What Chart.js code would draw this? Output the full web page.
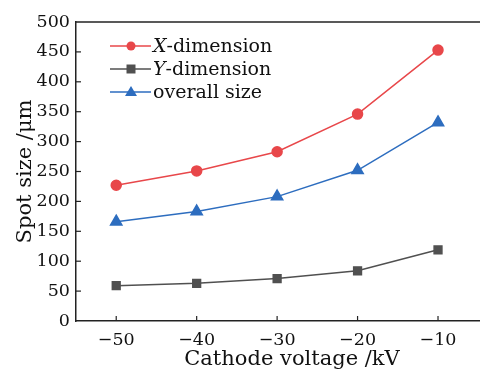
<!DOCTYPE html>
<html>
<head>
<meta charset="utf-8">
<script src="https://cdn.jsdelivr.net/npm/chart.js@4"></script>
<style>
  html, body { margin: 0; padding: 0; background: #fff; overflow: hidden; }
  #wrap { width: 516px; height: 371px; }
</style>
</head>
<body>
<div id="wrap"><canvas id="chart"></canvas></div>
<script>
const voltages = [-50, -40, -30, -20, -10];
const xDimension = [227, 251, 283, 346, 453];
const yDimension = [59, 63, 71, 84, 119];
const overallSize = [166, 183, 208, 252, 332];
const seriesLabels = ["X-dimension", "Y-dimension", "overall size"];

const FONT = "'DejaVu Serif', 'Liberation Serif', serif";
const TICK_SIZE = 17.5;
const LEGEND_SIZE = 19;
const TITLE_SIZE = 21;

const frameAndLegend = {
  id: "frameAndLegend",
  afterDraw(chart) {
    const { ctx, chartArea: a, scales } = chart;
    ctx.save();
    ctx.strokeStyle = "#222";
    ctx.lineWidth = 1.5;
    // top border
    ctx.beginPath();
    ctx.moveTo(a.left, a.top);
    ctx.lineTo(a.right, a.top);
    ctx.stroke();
    // inward ticks
    ctx.lineWidth = 1.2;
    voltages.forEach(v => {
      const x = scales.x.getPixelForValue(v);
      ctx.beginPath();
      ctx.moveTo(x, a.bottom);
      ctx.lineTo(x, a.bottom - 5);
      ctx.stroke();
    });
    for (let v = 50; v < 500; v += 50) {
      const y = scales.y.getPixelForValue(v);
      ctx.beginPath();
      ctx.moveTo(a.left, y);
      ctx.lineTo(a.left + 5, y);
      ctx.stroke();
    }

    // legend
    const rows = [46, 69, 92];
    chart.data.datasets.forEach((ds, i) => {
      const y = rows[i];
      ctx.strokeStyle = ds.borderColor;
      ctx.lineWidth = 1.5;
      ctx.beginPath();
      ctx.moveTo(110, y);
      ctx.lineTo(151, y);
      ctx.stroke();
      ctx.fillStyle = ds.borderColor;
      const cx = 131;
      ctx.beginPath();
      if (ds.pointStyle === "circle") {
        ctx.arc(cx, y, 4.5, 0, Math.PI * 2);
      } else if (ds.pointStyle === "rect") {
        ctx.rect(cx - 4.5, y - 4.5, 9, 9);
      } else {
        ctx.moveTo(cx, y - 6);
        ctx.lineTo(cx + 6, y + 4);
        ctx.lineTo(cx - 6, y + 4);
        ctx.closePath();
      }
      ctx.fill();

      ctx.fillStyle = "#111";
      ctx.textBaseline = "middle";
      ctx.textAlign = "left";
      const label = ds.label;
      let x = 153;
      if (i < 2) {
        ctx.font = "italic " + LEGEND_SIZE + "px " + FONT;
        const first = label.charAt(0);
        ctx.fillText(first, x, y + 1);
        x += ctx.measureText(first).width;
        ctx.font = LEGEND_SIZE + "px " + FONT;
        ctx.fillText(label.slice(1), x, y + 1);
      } else {
        ctx.font = LEGEND_SIZE + "px " + FONT;
        ctx.fillText(label, x, y + 1);
      }
    });
    ctx.restore();
  }
};

function toPoints(values) {
  return voltages.map((v, i) => ({ x: v, y: values[i] }));
}

new Chart(document.getElementById("chart"), {
  type: "line",
  data: {
    datasets: [
      {
        label: seriesLabels[0],
        data: toPoints(xDimension),
        borderColor: "#e8474a",
        backgroundColor: "#e8474a",
        pointStyle: "circle",
        pointRadius: 5,
        borderWidth: 1.5
      },
      {
        label: seriesLabels[1],
        data: toPoints(yDimension),
        borderColor: "#505050",
        backgroundColor: "#505050",
        pointStyle: "rect",
        pointRadius: 5.5,
        borderWidth: 1.5
      },
      {
        label: seriesLabels[2],
        data: toPoints(overallSize),
        borderColor: "#2d6dbf",
        backgroundColor: "#2d6dbf",
        pointStyle: "triangle",
        pointRadius: 6.5,
        borderWidth: 1.5
      }
    ]
  },
  options: {
    responsive: true,
    maintainAspectRatio: false,
    animation: false,
    layout: { padding: { top: 22, right: 0, left: 13, bottom: 0 } },
    plugins: {
      legend: { display: false },
      tooltip: { enabled: false }
    },
    scales: {
      x: {
        type: "linear",
        min: -55,
        max: -1.3,
        afterFit(scale) { scale.height = 50; },
        afterBuildTicks(scale) {
          scale.ticks = voltages.map(v => ({ value: v }));
        },
        grid: { display: false, drawTicks: false },
        border: { display: true, color: "#222", width: 1.5 },
        ticks: {
          padding: 9,
          color: "#111",
          font: { family: FONT, size: TICK_SIZE },
          callback: v => (v < 0 ? "\u2212" + Math.abs(v) : String(v))
        },
        title: {
          display: true,
          text: "Cathode voltage /kV",
          color: "#111",
          font: { family: FONT, size: TITLE_SIZE },
          padding: { top: 0, bottom: -1 }
        }
      },
      y: {
        min: 0,
        max: 500,
        afterFit(scale) { scale.width = 63; },
        grid: { display: false, drawTicks: false },
        border: { display: true, color: "#222", width: 1.5 },
        ticks: {
          stepSize: 50,
          padding: 6,
          color: "#111",
          font: { family: FONT, size: TICK_SIZE }
        },
        title: {
          display: true,
          text: "Spot size /\u03bcm",
          color: "#111",
          font: { family: FONT, size: TITLE_SIZE },
          padding: { top: 0, bottom: 0 }
        }
      }
    }
  },
  plugins: [frameAndLegend]
});
</script>
</body>
</html>
